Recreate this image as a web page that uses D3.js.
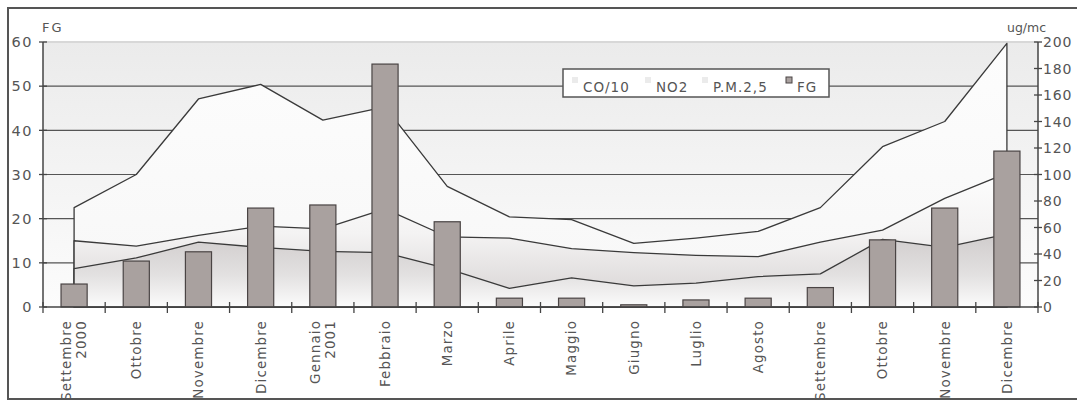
<!DOCTYPE html>
<html>
<head>
<meta charset="utf-8">
<script src="https://cdn.jsdelivr.net/npm/d3@7"></script>
<style>
    body { margin: 0; background: #fff; }
    text { font-family: "DejaVu Sans", sans-serif; fill: #555; }
</style>
</head>
<body>
<div id="chart"></div>
<script>
const width = 1077
const height = 401

// data
const months = ['Settembre\n2000', 'Ottobre', 'Novembre', 'Dicembre', 'Gennaio\n2001', 'Febbraio', 'Marzo', 'Aprile',
                'Maggio', 'Giugno', 'Luglio', 'Agosto', 'Settembre', 'Ottobre', 'Novembre', 'Dicembre']
const co10 = [75, 100, 157, 168, 141, 151, 91, 68, 66, 48, 52, 57, 75, 121, 140, 199]   // ug/mc
const no2  = [50, 46, 54, 61, 59, 74, 53, 52, 44, 41, 39, 38, 49, 58, 82, 101]          // ug/mc
const pm25 = [29, 37, 49, 45, 42, 41, 29, 14, 22, 16, 18, 23, 25, 51, 45, 55]           // ug/mc
const fg   = [5.2, 10.4, 12.5, 22.4, 23.1, 55, 19.3, 2, 2, 0.5, 1.6, 2, 4.4, 15.2, 22.4, 35.3]
const fg_ticks = [0, 10, 20, 30, 40, 50, 60]
const ug_ticks = [0, 20, 40, 60, 80, 100, 120, 140, 160, 180, 200]
const legend_labels = ['CO/10', 'NO2', 'P.M.2,5', 'FG']

const plot_left = 43
const plot_right = 1038
const plot_top = 42
const plot_bottom = 307
const line_color = '#3a3a3a'
const bar_color = '#a9a19f'

const svg = d3.select('#chart')
            .append('svg')
            .attr('width', width)
            .attr('height', height)

const x = d3.scaleBand()
            .domain(d3.range(months.length))
            .range([plot_left, plot_right])
const y_fg = d3.scaleLinear().domain([0, 60]).range([plot_bottom, plot_top])
const y_ug = d3.scaleLinear().domain([0, 200]).range([plot_bottom, plot_top])
const center = i => x(i) + x.bandwidth() / 2

// gradients
const defs = svg.append('defs')
function add_gradient(id, stops) {
    const g = defs.append('linearGradient')
        .attr('id', id)
        .attr('x1', 0).attr('y1', 0).attr('x2', 0).attr('y2', 1)
    stops.forEach(s => g.append('stop').attr('offset', s[0]).attr('stop-color', s[1]))
}
add_gradient('bg_grad', [[0, '#ebebeb'], [1, '#fcfcfc']])
add_gradient('co_grad', [[0, '#fdfdfd'], [1, '#f7f7f7']])
add_gradient('no2_grad', [[0, '#fdfdfd'], [0.45, '#f4f3f3'], [1, '#d6d2d2']])
add_gradient('pm_grad', [[0, '#d0cccc'], [0.55, '#e2e0e0'], [1, '#fbfbfb']])

// frame
svg.append('rect')
    .attr('x', 8).attr('y', 8)
    .attr('width', 1090).attr('height', 391)
    .attr('fill', '#fff')
    .attr('stroke', '#555')
    .attr('stroke-width', 2)

// plot background
svg.append('rect')
    .attr('x', plot_left).attr('y', plot_top)
    .attr('width', plot_right - plot_left).attr('height', plot_bottom - plot_top)
    .attr('fill', 'url(#bg_grad)')
svg.append('line')
    .attr('x1', plot_left).attr('x2', plot_right)
    .attr('y1', plot_top).attr('y2', plot_top)
    .attr('stroke', '#d8d8d8')
    .attr('stroke-width', 2)

// gridlines
svg.append('g')
    .selectAll('line')
    .data(fg_ticks.filter(d => d > 0 && d < 60))
    .enter()
    .append('line')
    .attr('x1', plot_left).attr('x2', plot_right)
    .attr('y1', d => y_fg(d)).attr('y2', d => y_fg(d))
    .attr('stroke', '#555')
    .attr('stroke-width', 1.2)

// areas
const area = d3.area()
    .x((d, i) => center(i))
    .y0(y_ug(0))
    .y1(d => y_ug(d))
const series = [[co10, 'co_grad'], [no2, 'no2_grad'], [pm25, 'pm_grad']]
series.forEach(s => {
    svg.append('path')
        .attr('d', area(s[0]))
        .attr('fill', `url(#${s[1]})`)
        .attr('stroke', line_color)
        .attr('stroke-width', 1.3)
        .attr('stroke-linejoin', 'round')
})

// FG bars
const bar_width = x.bandwidth() * 0.42
svg.append('g')
    .selectAll('rect')
    .data(fg)
    .enter()
    .append('rect')
    .attr('x', (d, i) => center(i) - bar_width / 2)
    .attr('y', d => y_fg(d))
    .attr('width', bar_width)
    .attr('height', d => y_fg(0) - y_fg(d))
    .attr('fill', bar_color)
    .attr('stroke', '#4a4444')
    .attr('stroke-width', 1.2)

// axes
const axis_color = '#444'
svg.append('line')
    .attr('x1', plot_left).attr('x2', plot_right)
    .attr('y1', plot_bottom).attr('y2', plot_bottom)
    .attr('stroke', axis_color).attr('stroke-width', 1.5)
svg.append('line')
    .attr('x1', plot_left).attr('x2', plot_left)
    .attr('y1', plot_top).attr('y2', plot_bottom)
    .attr('stroke', axis_color).attr('stroke-width', 1.5)
svg.append('line')
    .attr('x1', plot_right).attr('x2', plot_right)
    .attr('y1', plot_top).attr('y2', plot_bottom)
    .attr('stroke', axis_color).attr('stroke-width', 1.5)

// x ticks at category boundaries
svg.append('g')
    .selectAll('line')
    .data(d3.range(months.length + 1))
    .enter()
    .append('line')
    .attr('x1', i => plot_left + i * x.step()).attr('x2', i => plot_left + i * x.step())
    .attr('y1', plot_bottom - 5).attr('y2', plot_bottom + 6)
    .attr('stroke', axis_color).attr('stroke-width', 1.3)

// left axis
const left_axis = svg.append('g')
left_axis.selectAll('line')
    .data(fg_ticks)
    .enter()
    .append('line')
    .attr('x1', plot_left - 4).attr('x2', plot_left + 4)
    .attr('y1', d => y_fg(d)).attr('y2', d => y_fg(d))
    .attr('stroke', axis_color).attr('stroke-width', 1.3)
left_axis.selectAll('text')
    .data(fg_ticks)
    .enter()
    .append('text')
    .attr('x', 33)
    .attr('y', d => y_fg(d))
    .attr('dy', '0.36em')
    .attr('text-anchor', 'end')
    .attr('font-size', 14.5)
    .attr('letter-spacing', 1.5)
    .text(d => d)
svg.append('text')
    .attr('x', 42).attr('y', 32)
    .attr('font-size', 13)
    .attr('letter-spacing', 2)
    .text('FG')

// right axis
const right_axis = svg.append('g')
right_axis.selectAll('line')
    .data(ug_ticks)
    .enter()
    .append('line')
    .attr('x1', plot_right - 4).attr('x2', plot_right + 4)
    .attr('y1', d => y_ug(d)).attr('y2', d => y_ug(d))
    .attr('stroke', axis_color).attr('stroke-width', 1.3)
right_axis.selectAll('text')
    .data(ug_ticks)
    .enter()
    .append('text')
    .attr('x', 1043)
    .attr('y', d => y_ug(d))
    .attr('dy', '0.36em')
    .attr('font-size', 14)
    .attr('letter-spacing', 0.8)
    .text(d => d)
svg.append('text')
    .attr('x', 1007).attr('y', 32)
    .attr('font-size', 12.5)
    .text('ug/mc')

// month labels, rotated
const labels = svg.append('g')
    .selectAll('g')
    .data(months)
    .enter()
    .append('g')
    .attr('transform', (d, i) => `translate(${center(i)},320) rotate(-90)`)
labels.append('text')
    .attr('text-anchor', 'end')
    .attr('font-size', 13.5)
    .attr('letter-spacing', 1.1)
    .each(function(d) {
        const parts = d.split('\n')
        const t = d3.select(this)
        parts.forEach((p, k) => {
            const offset = (k - (parts.length - 1) / 2) * 15
            t.append('tspan')
                .attr('x', 0)
                .attr('y', offset)
                .attr('dy', '0.36em')
                .text(p)
        })
    })

// legend
const legend = svg.append('g')
legend.append('rect')
    .attr('x', 563).attr('y', 69)
    .attr('width', 266).attr('height', 28)
    .attr('fill', '#fff')
    .attr('stroke', '#555')
    .attr('stroke-width', 1.5)
const legend_x = [572, 645, 702, 786]
const legend_items = legend.selectAll('g')
    .data(legend_labels)
    .enter()
    .append('g')
    .attr('transform', (d, i) => `translate(${legend_x[i]},0)`)
legend_items.append('rect')
    .attr('x', 0).attr('y', 77)
    .attr('width', 6).attr('height', 6)
    .attr('fill', (d, i) => i === 3 ? bar_color : '#ebebeb')
    .attr('stroke', (d, i) => i === 3 ? '#4a4444' : 'none')
    .attr('stroke-width', 1)
legend_items.append('text')
    .attr('x', 11).attr('y', 92)
    .attr('font-size', 13.5)
    .attr('letter-spacing', 1)
    .text(d => d)
</script>
</body>
</html>
